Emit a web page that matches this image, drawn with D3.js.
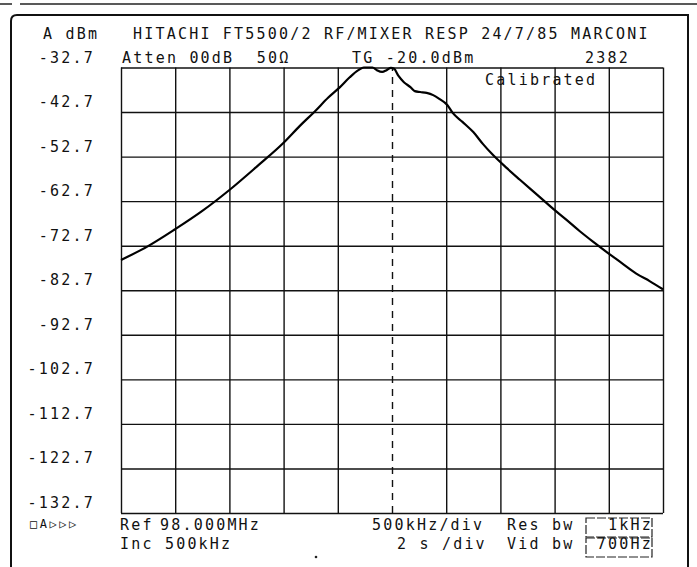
<!DOCTYPE html>
<html>
<head>
<meta charset="utf-8">
<script src="https://cdn.jsdelivr.net/npm/d3@7"></script>
<style>
  body { margin: 0; background: #fff; }
  svg text { font-family: "DejaVu Sans Mono", "Liberation Mono", monospace; font-size: 15px; fill: #111; letter-spacing: 2.2px; white-space: pre; }
</style>
</head>
<body>
<div id="chart"></div>
<script>
// sweep: frequency (MHz) and level (dBm)
var freqMHz = [95.50, 95.75, 96.00, 96.25, 96.50, 96.75, 97.00, 97.15, 97.29, 97.41, 97.52, 97.61, 97.69, 97.74,
  97.82, 97.86, 97.91, 97.95, 97.99, 98.02, 98.06, 98.11, 98.17, 98.21, 98.26, 98.32, 98.38, 98.44, 98.51,
  98.56, 98.65, 98.75, 98.84, 98.93, 99.06, 99.18, 99.34, 99.49, 99.61, 99.73, 99.86, 99.99, 100.12, 100.25,
  100.38, 100.50];
var levelDbm = [-75.9, -72.8, -69.0, -64.9, -60.2, -55.0, -49.6, -45.8, -42.5, -39.5, -37.1, -34.9, -33.3, -32.7,
  -32.7, -33.3, -33.7, -33.3, -32.8, -33.0, -34.6, -36.0, -37.1, -38.0, -38.2, -38.4, -38.9, -39.8, -41.1,
  -42.9, -44.9, -47.2, -49.9, -52.3, -55.3, -57.9, -61.3, -64.5, -66.9, -69.4, -71.9, -74.3, -76.6, -78.9,
  -80.7, -82.5];
var yTicks = [-32.7, -42.7, -52.7, -62.7, -72.7, -82.7, -92.7, -102.7, -112.7, -122.7, -132.7];
var xTicks = [95.5, 96.0, 96.5, 97.0, 97.5, 98.0, 98.5, 99.0, 99.5, 100.0, 100.5];
var centreFreq = 98.0;

var w = 697, h = 567;
var plot = {left: 121, right: 663, top: 67.5, bottom: 513};

var svg = d3.select("#chart")
  .append("svg")
  .attr("width", w)
  .attr("height", h);

var xScale = d3.scaleLinear()
  .domain([95.5, 100.5])
  .range([plot.left, plot.right]);
var yScale = d3.scaleLinear()
  .domain([-132.7, -32.7])
  .range([plot.bottom, plot.top]);

// scan edges / outer frame
svg.append("line").attr("x1", 0).attr("x2", 12).attr("y1", 4).attr("y2", 4)
  .attr("stroke", "#222").attr("stroke-width", 1.5);
svg.append("line").attr("x1", 20).attr("x2", 697).attr("y1", 4).attr("y2", 4)
  .attr("stroke", "#222").attr("stroke-width", 1.5);
svg.append("path")
  .attr("d", "M11," + h + " L11,21 Q11,15 17,15 L688,15 L688," + h)
  .attr("fill", "none").attr("stroke", "#111").attr("stroke-width", 2);

// grid from the axes
svg.append("g")
  .attr("class", "grid")
  .attr("transform", "translate(" + plot.left + ",0)")
  .call(d3.axisLeft(yScale).tickValues(yTicks).tickSize(plot.left - plot.right).tickFormat(""))
  .call(g => g.select(".domain").remove())
  .selectAll("line").attr("stroke", "#111").attr("stroke-width", 1.4);
svg.append("g")
  .attr("class", "grid")
  .attr("transform", "translate(0," + plot.bottom + ")")
  .call(d3.axisBottom(xScale).tickValues(xTicks).tickSize(plot.top - plot.bottom).tickFormat(""))
  .call(g => g.select(".domain").remove())
  .selectAll("line")
  .attr("stroke", "#111")
  .attr("stroke-width", 1.4)
  .attr("stroke-dasharray", d => d === centreFreq ? "7,6" : null);

// y labels
svg.selectAll(".ylab")
  .data(yTicks)
  .enter()
  .append("text")
  .attr("class", "ylab")
  .attr("x", 95)
  .attr("y", d => yScale(d) - 5)
  .attr("text-anchor", "end")
  .text(d => (d < 0 ? "-" : "") + Math.abs(d).toFixed(1));

// trace
var line = d3.line()
  .x((d, i) => xScale(freqMHz[i]))
  .y(d => yScale(d))
  .curve(d3.curveMonotoneX);
svg.append("path")
  .datum(levelDbm)
  .attr("d", line)
  .attr("fill", "none")
  .attr("stroke", "#000")
  .attr("stroke-width", 2.2);

// header / footer annotations
var labels = [
  {t: "A dBm", x: 43, y: 39},
  {t: "HITACHI FT5500/2 RF/MIXER RESP 24/7/85 MARCONI", x: 133, y: 39},
  {t: "Atten 00dB  50\u03a9", x: 122, y: 63},
  {t: "TG -20.0dBm", x: 352, y: 63},
  {t: "2382", x: 585, y: 63},
  {t: "Calibrated", x: 485, y: 85},
  {t: "Ref", x: 120, y: 530},
  {t: "98.000MHz", x: 160, y: 530},
  {t: "Inc 500kHz", x: 120, y: 549},
  {t: "500kHz/div", x: 372, y: 530},
  {t: "2 s /div", x: 397, y: 549},
  {t: "Res bw", x: 507, y: 530},
  {t: "Vid bw", x: 507, y: 549},
  {t: "1kHz", x: 653, y: 530, a: "end"},
  {t: "700Hz", x: 653, y: 549, a: "end"}
];
svg.selectAll(".lab")
  .data(labels)
  .enter()
  .append("text")
  .attr("class", "lab")
  .attr("x", d => d.x)
  .attr("y", d => d.y)
  .attr("text-anchor", d => d.a || "start")
  .text(d => d.t);

svg.append("text")
  .attr("x", 30).attr("y", 528)
  .style("font-size", "12px").style("letter-spacing", "2.5px")
  .text("\u25a1A\u25b7\u25b7\u25b7");

// bandwidth boxes
[518, 538].forEach(y => {
  svg.append("rect")
    .attr("x", 586).attr("y", y).attr("width", 66).attr("height", 19)
    .attr("fill", "none").attr("stroke", "#222").attr("stroke-width", 1.2)
    .attr("stroke-dasharray", "9,2");
});
svg.append("circle").attr("cx", 316).attr("cy", 557).attr("r", 1.3).attr("fill", "#222");
</script>
</body>
</html>
